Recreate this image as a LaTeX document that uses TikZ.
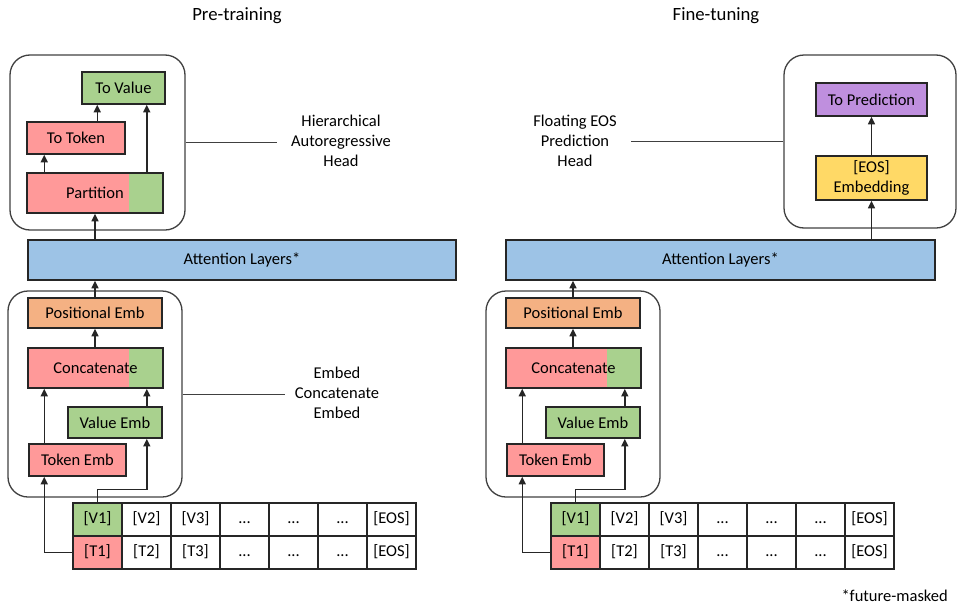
\documentclass[tikz,border=0pt]{standalone}
\usepackage{fontspec}
\setmainfont{Carlito}
\usetikzlibrary{arrows.meta}
\definecolor{pinkfill}{HTML}{FF9999}
\definecolor{greenfill}{HTML}{A9D18E}
\definecolor{bluefill}{HTML}{9DC3E6}
\definecolor{orangefill}{HTML}{F4B183}
\definecolor{yellowfill}{HTML}{FFD966}
\definecolor{purplefill}{HTML}{BF8FDE}
\definecolor{edge}{HTML}{262626}
\definecolor{grpedge}{HTML}{404040}
\newcommand\celldots{...}
\begin{document}
\begin{tikzpicture}[x=1pt,y=-1pt,
  every node/.style={font=\fontsize{16.5}{20}\selectfont, text=black},
  blk/.style={draw=edge, line width=1.6pt, inner sep=0pt, align=center},
  pinkbox/.style={blk, fill=pinkfill},
  greenbox/.style={blk, fill=greenfill},
  bluebox/.style={blk, fill=bluefill},
  orangebox/.style={blk, fill=orangefill},
  yellowbox/.style={blk, fill=yellowfill},
  purplebox/.style={blk, fill=purplefill},
  splitbox/.style={blk, fill=pinkfill, path picture={
      \fill[greenfill] ([xshift=-34pt]path picture bounding box.north east)
        rectangle (path picture bounding box.south east);}},
  cell/.style={draw=edge, line width=1.4pt, minimum width=49pt, minimum height=33pt,
    inner sep=0pt, text height=11.5pt, text depth=3.5pt},
  grp/.style={draw=grpedge, line width=1.3pt, rounded corners=20pt, inner sep=0pt},
  arr/.style={draw=edge, line width=1.4pt, -{Triangle[length=7.5pt,width=7pt]}},
  link/.style={draw=grpedge, line width=1pt},
  note/.style={align=center, inner sep=0pt},
  heading/.style={note, font=\fontsize{18.7}{22}\selectfont}
]
\useasboundingbox (0,0) rectangle (957,605);

% ---------- titles ----------
\node[heading] (t1title) at (237,16) {Pre-training};
\node[heading] (t2title) at (716,16) {Fine-tuning};
\node[note, anchor=east] (mask) at (948,596) {*future-masked};

% ---------- left: pre-training ----------
\node[grp, minimum width=175pt, minimum height=175pt] (lhead) at (97.5,142.5) {};
\node[greenbox, minimum width=83pt, minimum height=32pt] (tval) at (123.5,88) {To Value};
\node[pinkbox, minimum width=98pt, minimum height=32pt] (ttok) at (76,138) {To Token};
\node[splitbox, minimum width=136pt, minimum height=40pt] (part) at (95,193) {Partition};

\node[bluebox, minimum width=428pt, minimum height=40pt] (latt) at (242,260) {Attention Layers*};

\node[grp, minimum width=174pt, minimum height=206pt] (lemb) at (95,394) {};
\node[orangebox, minimum width=134pt, minimum height=30pt] (lpos) at (95,313) {Positional Emb};
\node[splitbox, minimum width=135pt, minimum height=40pt] (lcat) at (95.5,368) {Concatenate};
\node[greenbox, minimum width=94pt, minimum height=31pt] (lve) at (115,422.5) {Value Emb};
\node[pinkbox, minimum width=97pt, minimum height=32pt] (lte) at (77.5,460) {Token Emb};

% input sequence table
\foreach \lab [count=\i] in {{[V1]},{[V2]},{[V3]},\celldots,\celldots,\celldots,{[EOS]}}
  \node[cell] (lv\i) at ({97.5+49*(\i-1)},519.5) {\lab};
\foreach \lab [count=\i] in {{[T1]},{[T2]},{[T3]},\celldots,\celldots,\celldots,{[EOS]}}
  \node[cell] (lt\i) at ({97.5+49*(\i-1)},552.5) {\lab};
\node[cell, fill=greenfill] at (lv1) {[V1]};
\node[cell, fill=pinkfill] at (lt1) {[T1]};

% labels of the two groups
\node[note, inner xsep=14pt] (lhlab) at (341,141) {Hierarchical\\Autoregressive\\Head};
\node[note, inner xsep=10pt] (lelab) at (337,393) {Embed\\Concatenate\\Embed};
\draw[link] (lhead.east) -- (lhead.east -| lhlab.west);
\draw[link] (lemb.east) -- (lemb.east -| lelab.west);

% connectors, left
\draw[arr] ([xshift=18pt]part.north west) -- ([xshift=18pt]ttok.south west);
\draw[arr] ([xshift=71pt]ttok.north west) -- ([xshift=71pt]ttok.north west |- tval.south);
\draw[arr] ([xshift=-17pt]part.north east) -- ([xshift=-17pt]part.north east |- tval.south);
\draw[arr] (part.south |- latt.north) -- (part.south);
\draw[arr] (lpos.north) -- (lpos.north |- latt.south);
\draw[arr] (lcat.north -| lpos.north) -- (lpos.south);
\draw[arr] ([xshift=16pt]lte.north west) -- ([xshift=16pt]lte.north west |- lcat.south);
\draw[arr] ([xshift=-16pt]lve.north east) -- ([xshift=-16pt]lve.north east |- lcat.south);
\draw[arr] (lt1.west) -| ([xshift=16pt]lte.south west);
\draw[arr] (lv1.north) -- ++(0,-13) -| ([xshift=-16pt]lve.south east);

% ---------- right: fine-tuning ----------
\node[grp, minimum width=172pt, minimum height=173pt] (rhead) at (870,141.5) {};
\node[purplebox, minimum width=111pt, minimum height=33pt] (rpred) at (871.5,99.5) {To Prediction};
\node[yellowbox, minimum width=111pt, minimum height=44pt] (reos) at (871.5,178) {[EOS]\\Embedding};

\node[bluebox, minimum width=429pt, minimum height=40pt] (ratt) at (720.5,260) {Attention Layers*};

\node[grp, minimum width=174pt, minimum height=206pt] (remb) at (573,394) {};
\node[orangebox, minimum width=134pt, minimum height=30pt] (rpos) at (573,313) {Positional Emb};
\node[splitbox, minimum width=135pt, minimum height=40pt] (rcat) at (573.5,368) {Concatenate};
\node[greenbox, minimum width=94pt, minimum height=31pt] (rve) at (593,422.5) {Value Emb};
\node[pinkbox, minimum width=97pt, minimum height=32pt] (rte) at (555.5,460) {Token Emb};

\foreach \lab [count=\i] in {{[V1]},{[V2]},{[V3]},\celldots,\celldots,\celldots,{[EOS]}}
  \node[cell] (rv\i) at ({575.5+49*(\i-1)},519.5) {\lab};
\foreach \lab [count=\i] in {{[T1]},{[T2]},{[T3]},\celldots,\celldots,\celldots,{[EOS]}}
  \node[cell] (rt\i) at ({575.5+49*(\i-1)},552.5) {\lab};
\node[cell, fill=greenfill] at (rv1) {[V1]};
\node[cell, fill=pinkfill] at (rt1) {[T1]};

\node[note, inner xsep=14pt] (rhlab) at (575,141) {Floating EOS\\Prediction\\Head};
\draw[link] (rhead.west) -- (rhead.west -| rhlab.east);

% connectors, right
\draw[arr] (reos.south |- ratt.north) -- (reos.south);
\draw[arr] (reos.north) -- (rpred.south);
\draw[arr] (rpos.north) -- (rpos.north |- ratt.south);
\draw[arr] (rcat.north -| rpos.north) -- (rpos.south);
\draw[arr] ([xshift=16pt]rte.north west) -- ([xshift=16pt]rte.north west |- rcat.south);
\draw[arr] ([xshift=-16pt]rve.north east) -- ([xshift=-16pt]rve.north east |- rcat.south);
\draw[arr] (rt1.west) -| ([xshift=16pt]rte.south west);
\draw[arr] (rv1.north) -- ++(0,-13) -| ([xshift=-16pt]rve.south east);
\end{tikzpicture}
\end{document}
